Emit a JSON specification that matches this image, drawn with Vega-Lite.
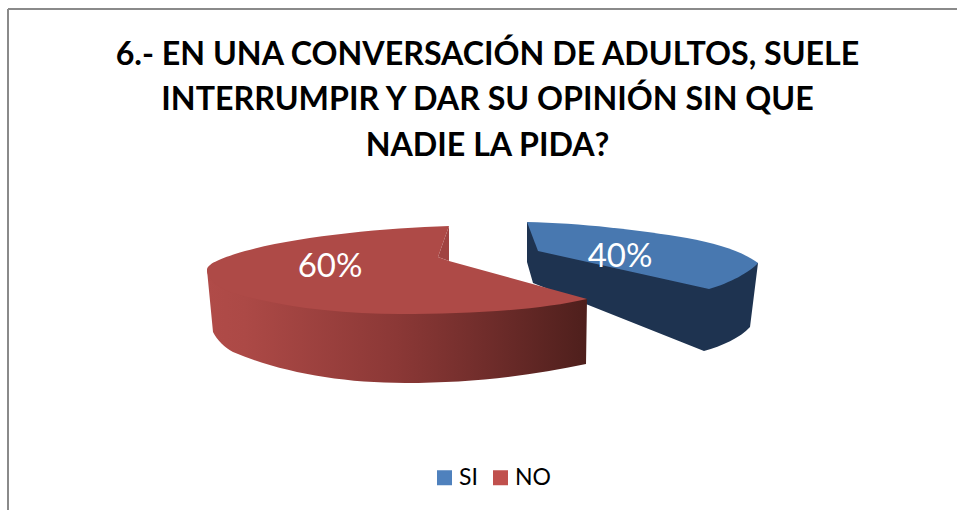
{
"$schema":"https://vega.github.io/schema/vega-lite/v6.json",
"width":949,"height":501,
"autosize":"none",
"padding":{"left":8,"top":9,"right":0,"bottom":0},
"background":"#ffffff",
"config":{"view":{"stroke":null}},
"title":{"text":["6.- EN UNA CONVERSACIÓN DE ADULTOS, SUELE","INTERRUMPIR Y DAR SU OPINIÓN SIN QUE","NADIE LA PIDA?"],"font":"Lato","fontSize":32.2,"fontWeight":"bold","color":"#000000","anchor":"middle","baseline":"top","lineHeight":45.5,"offset":-155,"dx":5},
"data":{"values":[{"categoria":"SI","porcentaje":0.4},{"categoria":"NO","porcentaje":0.6}]},
"layer":[
{"transform":[{"filter":"datum.categoria==='SI'"}],"mark":{"type":"rule","color":"#8a8a8a","strokeWidth":2},"encoding":{"x":{"value":0}}},
{"transform":[{"filter":"datum.categoria==='SI'"}],"mark":{"type":"rule","color":"#8a8a8a","strokeWidth":2},"encoding":{"y":{"value":0}}},
{"encoding":{
"x":{"field":"categoria","type":"nominal","axis":null,"scale":{"type":"point","padding":0,"domain":["SI","NO"],"range":[612,322]}},
"y":{"field":"categoria","type":"nominal","axis":null,"scale":{"type":"point","padding":0,"domain":["SI","NO"],"range":[246,256]}}},
"layer":[
{"mark":{"type":"point","filled":true,"opacity":1,"size":0},
"encoding":{"color":{"field":"categoria","type":"nominal","scale":{"domain":["SI","NO"],"range":["#4f81bd","#c0504d"]},
"legend":{"title":null,"orient":"none","legendX":425,"legendY":457,"direction":"horizontal","columns":2,"symbolType":"square","symbolSize":225,"symbolOpacity":1,"labelFont":"Lato","labelFontSize":23,"labelColor":"#000000","labelOffset":3,"columnPadding":11,"symbolStrokeWidth":0,"labelLimit":100}}}},
{"transform":[{"filter":"datum.categoria==='SI'"}],"mark":{"type":"point","filled":true,"opacity":1,"size":4,"fill":"#1e3350","strokeWidth":0,"shape":"M-93,-33 L-93,7 L-87,28 L84,96 C102,91 120,83 130,72 L138,8 L-20,-5 Z"}},
{"transform":[{"filter":"datum.categoria==='SI'"}],"mark":{"type":"point","filled":true,"opacity":1,"size":4,"fill":"#4878b0","strokeWidth":0,"shape":"M-93,-33 C-40,-32 20,-25 67,-17 C100,-11 125,-2 138,8 C130,17 110,28 89,34 L-82,-4 Z"}},
{"transform":[{"filter":"datum.categoria==='NO'"}],"mark":{"type":"point","filled":true,"opacity":1,"size":4,"strokeWidth":0,"shape":"M-123,5 L-117,67 C-113,75 -105,83 -97,87 C-50,107 10,118 75,118 C140,118 200,111 256,99 L257,34 L70,25 Z",
"fill":{"gradient":"linear","x1":0,"y1":0,"x2":1,"y2":0,"stops":[{"offset":0,"color":"#b04b48"},{"offset":0.1,"color":"#ac4946"},{"offset":0.5,"color":"#8b3836"},{"offset":0.75,"color":"#6e2c2a"},{"offset":1,"color":"#4e1f1c"}]}}},
{"transform":[{"filter":"datum.categoria==='NO'"}],"mark":{"type":"point","filled":true,"opacity":1,"size":4,"fill":"#a04341","strokeWidth":0,"shape":"M119,-39 L108,-8 L119,-4 Z"}},
{"transform":[{"filter":"datum.categoria==='NO'"}],"mark":{"type":"point","filled":true,"opacity":1,"size":4,"fill":"#ae4a47","strokeWidth":0,"shape":"M119,-39 C48,-37 -45,-27 -95,-11 C-110,-6 -123,-1 -123,5 C-123,14 -112,23 -97,28 C-50,42 10,49 70,49 C140,49 210,45 257,34 L119,-4 L108,-8 Z"}},
{"mark":{"type":"text","font":"Lato","fontSize":33,"color":"#ffffff","align":"center","baseline":"middle","dy":2},"encoding":{"text":{"field":"porcentaje","type":"quantitative","format":".0%"}}}
]}
]
}
